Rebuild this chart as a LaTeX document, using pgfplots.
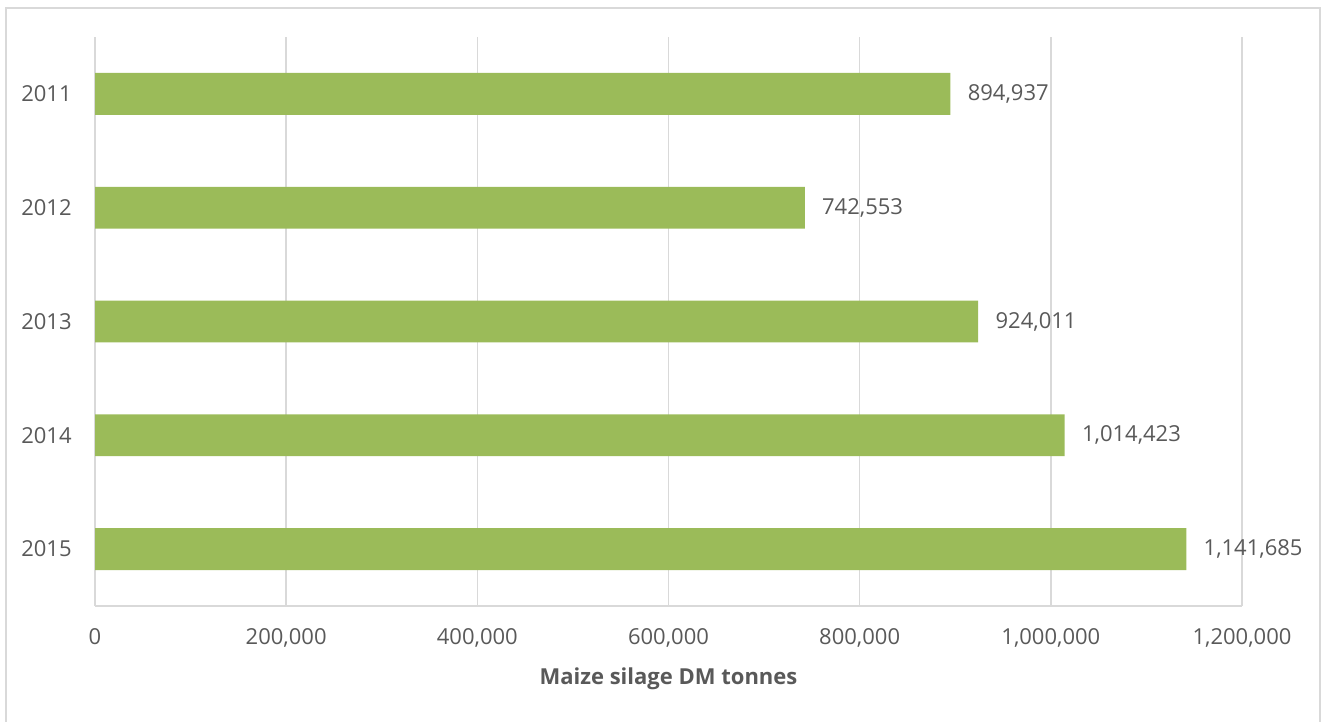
\documentclass[border=0pt]{standalone}
\usepackage{fontspec}
\setmainfont{Open Sans}
\usepackage{pgfplots}
\pgfplotsset{compat=1.18}
\usepackage{pgfplotstable}
\definecolor{barg}{HTML}{9BBB59}
\definecolor{gridc}{HTML}{D9D9D9}
\definecolor{txt}{HTML}{595959}
\pgfplotstableread{
y v lab
4 894937 894,937
3 742553 742,553
2 924011 924,011
1 1014423 1,014,423
0 1141685 1,141,685
}\datatable
\begin{document}
\begin{tikzpicture}[font=\fontsize{11bp}{13bp}\selectfont]
\useasboundingbox (0,0) rectangle (661.5bp,361bp);
\draw[gridc, line width=0.75bp] (3bp,-5bp) rectangle (660bp,357bp);
\begin{axis}[
  at={(47.5bp,58bp)}, anchor=south west,
  scale only axis, width=573.5bp, height=284.5bp,
  xmin=0, xmax=1200000, ymin=-0.5, ymax=4.5,
  clip=false,
  xbar, bar width=0.368,
  axis line style={draw=none},
  major tick length=0pt,
  tick style={draw=none},
  scaled ticks=false,
  xtick={0,200000,400000,600000,800000,1000000,1200000},
  xticklabels={0,{200,000},{400,000},{600,000},{800,000},{1,000,000},{1,200,000}},
  ytick={0,1,2,3,4},
  yticklabels={2015,2014,2013,2012,2011},
  xmajorgrids, ymajorgrids=false,
  major grid style={draw=gridc, line width=0.75bp},
  xticklabel style={anchor=base, yshift=-19.5bp, inner sep=0pt, text=txt},
  yticklabel style={anchor=east, xshift=-11.5bp, inner sep=0pt, text=txt},
  xlabel={\bfseries Maize silage DM tonnes},
  xlabel style={at={(axis description cs:0.5,0)}, anchor=base, yshift=-39.5bp, inner sep=0pt, text=txt},
  nodes near coords,
  point meta=explicit symbolic,
  every node near coord/.append style={anchor=west, inner sep=0pt, xshift=8.5bp, text=txt},
]
\addplot[fill=barg, draw=none] table[x=v, y=y, meta=lab] {\datatable};
\draw[gridc, line width=0.75bp] (axis description cs:0,0) -- (axis description cs:1,0);
\end{axis}
\end{tikzpicture}
\end{document}
